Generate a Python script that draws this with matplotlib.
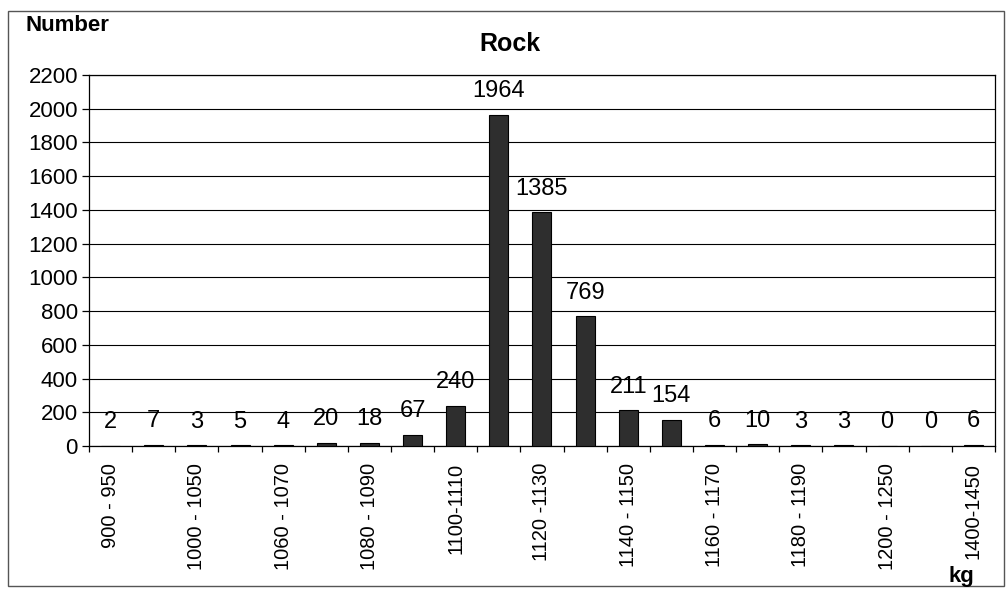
import numpy as np
import matplotlib.pyplot as plt
from matplotlib.patches import Rectangle

plt.rcParams['font.family'] = ['Liberation Sans', 'DejaVu Sans']

# weight classes (kg), only every other one is labelled on the axis
classes = ["900 - 950", "950 - 1000", "1000 - 1050", "1050 - 1060", "1060 - 1070",
           "1070 - 1080", "1080 - 1090", "1090 - 1100", "1100-1110", "1110 - 1120",
           "1120 -1130", "1130 - 1140", "1140 - 1150", "1150 - 1160", "1160 - 1170",
           "1170 - 1180", "1180 - 1190", "1190 - 1200", "1200 - 1250", "1250 - 1400",
           "1400-1450"]
counts = [2, 7, 3, 5, 4, 20, 18, 67, 240, 1964, 1385, 769, 211, 154, 6, 10, 3, 3, 0, 0, 6]

fig = plt.figure(figsize=(10.06, 5.89), dpi=100)
ax = fig.add_axes([0.0885, 0.2428, 0.9005, 0.6299])

x = np.arange(len(classes))
bars = ax.bar(x, counts, width=0.44, color='#2e2e2e', edgecolor='black', linewidth=0.8, zorder=3)

for xi, c in zip(x, counts):
    ax.annotate(str(c), (xi, c), xytext=(0, 17), textcoords='offset points',
                ha='center', va='center', fontsize=17, zorder=4)

ax.set_xlim(-0.5, len(classes) - 0.5)
ax.set_ylim(0, 2200)
ax.set_yticks(np.arange(0, 2201, 200))
ax.yaxis.grid(True, color='black', linewidth=0.8)
ax.set_axisbelow(True)
ax.tick_params(axis='y', labelsize=16, length=5, width=0.9, direction='out', pad=3)

ax.set_xticks(x[::2])
ax.set_xticklabels(classes[::2], rotation=90, ha='center', va='top', fontsize=14.5)
ax.set_xticks(np.arange(-0.5, len(classes), 1.0), minor=True)
ax.tick_params(axis='x', which='major', length=0, pad=12)
ax.tick_params(axis='x', which='minor', length=4, width=0.9, direction='out')

for s in ax.spines.values():
    s.set_color('black')
    s.set_linewidth(0.9)

fig.text(0.507, 0.925, 'Rock', fontsize=18, fontweight='bold', ha='center', va='center')
fig.text(0.025, 0.957, 'Number', fontsize=16, fontweight='bold', ha='left', va='center')
fig.text(0.943, 0.022, 'kg', fontsize=16, fontweight='bold', ha='left', va='center')

fig.patches.append(Rectangle((0.008, 0.005), 0.99, 0.977, transform=fig.transFigure,
                             fill=False, edgecolor='#555555', linewidth=1.0))

fig.savefig('out.png', dpi=100)
